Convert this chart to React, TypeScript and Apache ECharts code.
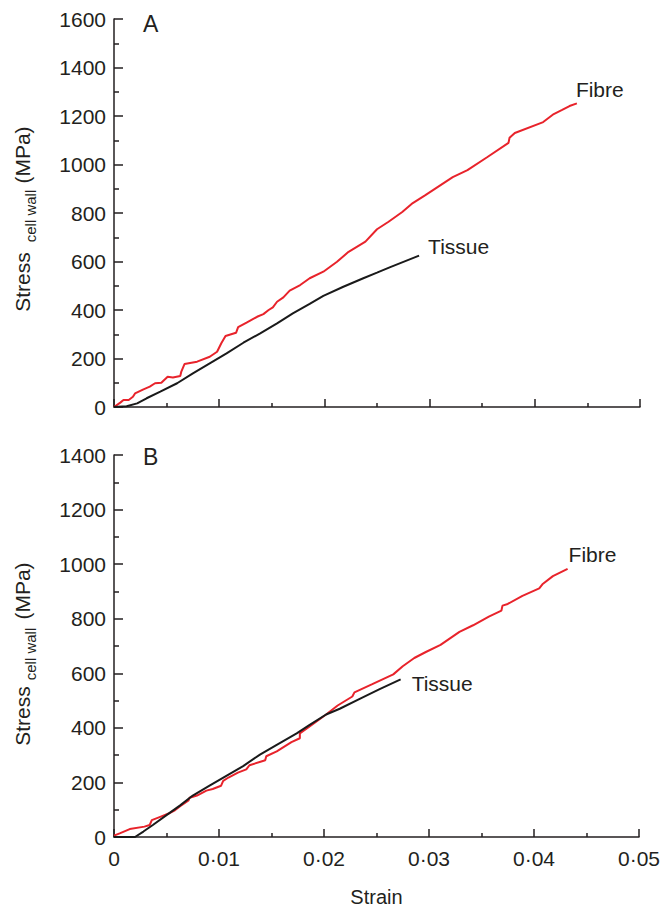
import React, { useEffect, useRef } from "react";
import * as echarts from "echarts";

const fibreAStrain = [0, 0.0006, 0.0009, 0.0014, 0.0018, 0.002, 0.0028, 0.0034, 0.0039, 0.0045, 0.0051, 0.0056, 0.0063, 0.0064, 0.0067, 0.0079, 0.0091, 0.0098, 0.0102, 0.0106, 0.0116, 0.0118, 0.0126, 0.0136, 0.0142, 0.0147, 0.0151, 0.0155, 0.0161, 0.0167, 0.0177, 0.0186, 0.0199, 0.0212, 0.0223, 0.0239, 0.025, 0.0261, 0.0274, 0.0284, 0.0296, 0.0322, 0.0336, 0.0355, 0.0375, 0.0376, 0.0381, 0.0408, 0.0418, 0.0426, 0.0433, 0.044];
const fibreAStress = [0, 18, 29, 29, 42, 56, 73, 84, 98, 100, 125, 122, 128, 146, 177, 187, 207, 228, 263, 293, 306, 329, 348, 372, 383, 400, 411, 434, 452, 480, 503, 531, 558, 599, 640, 682, 733, 764, 804, 841, 874, 948, 977, 1031, 1089, 1110, 1130, 1175, 1208, 1225, 1241, 1252];

const tissueAStrain = [0, 0.0012, 0.0022, 0.0031, 0.0044, 0.006, 0.0075, 0.0091, 0.0107, 0.0123, 0.0139, 0.0155, 0.017, 0.0186, 0.0199, 0.0218, 0.0237, 0.025, 0.0262, 0.029];
const tissueAStress = [0, 3, 15, 36, 63, 98, 139, 180, 221, 265, 304, 345, 386, 425, 458, 496, 531, 554, 576, 624];

const fibreBStrain = [0, 0.0006, 0.0015, 0.0029, 0.0034, 0.0036, 0.0044, 0.0052, 0.0058, 0.0063, 0.0071, 0.0072, 0.0079, 0.0088, 0.0094, 0.0102, 0.0104, 0.0109, 0.0118, 0.0126, 0.0129, 0.0144, 0.0145, 0.0155, 0.0169, 0.0177, 0.0177, 0.0186, 0.0202, 0.0213, 0.0227, 0.0229, 0.0246, 0.0266, 0.0275, 0.0286, 0.0297, 0.0311, 0.0329, 0.0342, 0.0357, 0.0369, 0.037, 0.0375, 0.0389, 0.0405, 0.0408, 0.0418, 0.0432];
const fibreBStress = [5, 14, 29, 38, 44, 62, 74, 86, 98, 113, 134, 144, 152, 170, 176, 188, 206, 218, 236, 248, 263, 281, 296, 314, 348, 362, 380, 404, 449, 482, 515, 530, 560, 596, 626, 656, 678, 704, 752, 776, 808, 830, 848, 854, 884, 911, 926, 956, 983];

const tissueBStrain = [0, 0.002, 0.0028, 0.0037, 0.005, 0.0063, 0.0075, 0.0091, 0.0107, 0.0123, 0.0139, 0.0155, 0.0174, 0.0186, 0.0202, 0.0215, 0.0234, 0.0253, 0.0273];
const tissueBStress = [0, 0, 20, 44, 80, 116, 152, 188, 224, 260, 302, 338, 380, 410, 449, 470, 506, 542, 578];

const panelLabels = ["A", "B"];
const seriesNames = ["Fibre", "Tissue"];

const FONT = "'Liberation Sans', Arial, Helvetica, sans-serif";
const INK = "#231f20";
const RED = "#e8232b";

const zip = (xs: number[], ys: number[]) => xs.map((x, i) => [x, ys[i]]);

export default function App() {
  const ref = useRef<HTMLDivElement>(null);
  useEffect(() => {
    if (!ref.current) return;
    const chart = echarts.init(ref.current, null, { renderer: "svg" });
    const axisLine = { show: true, lineStyle: { color: INK, width: 1.5 } };
    const xAxisBase = (idx: number, showLabel: boolean) => ({
      type: "value",
      gridIndex: idx,
      min: 0,
      max: 0.05,
      interval: 0.01,
      axisLine,
      splitLine: { show: false },
      axisTick: { show: true, inside: true, length: 8, lineStyle: { color: INK, width: 1.5 } },
      minorTick: { show: true, splitNumber: 2, length: 4, lineStyle: { color: INK, width: 1.5 } },
      axisLabel: {
        show: showLabel,
        fontFamily: FONT,
        fontSize: 21,
        color: INK,
        margin: 11,
        formatter: (v: number) => (v === 0 ? "0" : v.toFixed(2).replace(".", "·")),
      },
      name: showLabel ? "Strain" : "",
      nameLocation: "middle",
      nameGap: 50,
      nameTextStyle: { fontFamily: FONT, fontSize: 20, color: INK },
    });
    const yAxisBase = (idx: number, max: number) => ({
      type: "value",
      gridIndex: idx,
      min: 0,
      max,
      interval: 200,
      axisLine,
      splitLine: { show: false },
      axisTick: { show: true, inside: true, length: 9, lineStyle: { color: INK, width: 1.5 } },
      minorTick: { show: true, splitNumber: 2, length: 5, lineStyle: { color: INK, width: 1.5 } },
      axisLabel: { fontFamily: FONT, fontSize: 21, color: INK, margin: 8, formatter: (v: number) => String(v) },
    });
    const lineSeries = (name: string, xi: number, data: number[][], color: string, offset: number[]) => ({
      type: "line",
      name,
      xAxisIndex: xi,
      yAxisIndex: xi,
      data,
      showSymbol: false,
      symbol: "none",
      lineStyle: { color, width: 2 },
      endLabel: {
        show: true,
        formatter: name,
        fontFamily: FONT,
        fontSize: 21,
        color: INK,
        offset,
        distance: 5,
      },
    });
    const yTitle = (parts: number[]) => [
      { type: "text", x: 22, y: parts[0], rotation: Math.PI / 2, style: { text: "Stress", fontFamily: FONT, fontSize: 21, fill: INK, align: "center", verticalAlign: "middle" } },
      { type: "text", x: 30, y: parts[1], rotation: Math.PI / 2, style: { text: "cell wall", fontFamily: FONT, fontSize: 15, fill: INK, align: "center", verticalAlign: "middle" } },
      { type: "text", x: 22, y: parts[2], rotation: Math.PI / 2, style: { text: "(MPa)", fontFamily: FONT, fontSize: 21, fill: INK, align: "center", verticalAlign: "middle" } },
    ];
    chart.setOption({
      animation: false,
      backgroundColor: "#ffffff",
      grid: [
        { left: 114, width: 526, top: 19, height: 388 },
        { left: 114, width: 526, top: 455, height: 389 },
      ],
      xAxis: [xAxisBase(0, false), xAxisBase(1, true)],
      yAxis: [yAxisBase(0, 1600), yAxisBase(1, 1400)],
      series: [
        lineSeries(seriesNames[0], 0, zip(fibreAStrain, fibreAStress), RED, [-6, -14]),
        lineSeries(seriesNames[1], 0, zip(tissueAStrain, tissueAStress), "#1a1a1a", [4, -9]),
        lineSeries(seriesNames[0], 1, zip(fibreBStrain, fibreBStress), RED, [-4, -14]),
        lineSeries(seriesNames[1], 1, zip(tissueBStrain, tissueBStress), "#1a1a1a", [6, 4]),
      ],
      graphic: [
        { type: "text", x: 143, y: 24, style: { text: panelLabels[0], fontFamily: FONT, fontSize: 23, fill: INK, verticalAlign: "middle" } },
        { type: "text", x: 143, y: 457, style: { text: panelLabels[1], fontFamily: FONT, fontSize: 23, fill: INK, verticalAlign: "middle" } },
        ...yTitle([282, 216, 155]),
        ...yTitle([716, 654, 591]),
      ],
    });
    return () => chart.dispose();
  }, []);
  return <div ref={ref} style={{ position: "absolute", left: 0, top: 0, width: 663, height: 908, background: "#fff" }} />;
}
